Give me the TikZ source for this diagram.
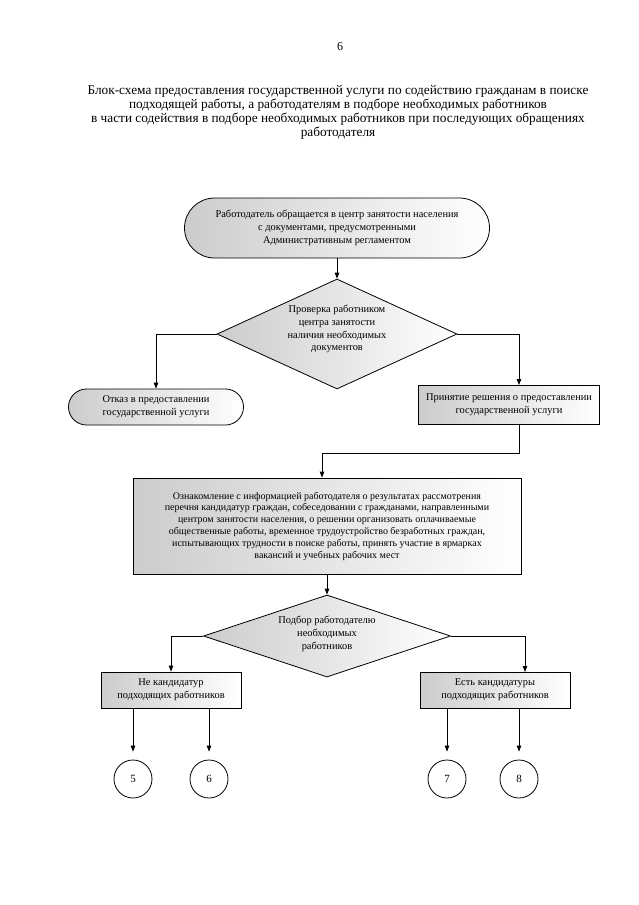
\documentclass[tikz,border=0pt]{standalone}
\usepackage{fontspec}
\setmainfont{Liberation Serif}
\usetikzlibrary{shapes.geometric,shapes.misc,arrows.meta}
\begin{document}
\begin{tikzpicture}[x=1pt,y=-1pt,
  every node/.style={inner sep=0pt, align=center},
  txt/.style={font=\fontsize{10.4}{12.8}\selectfont},
  bigtxt/.style={font=\fontsize{10}{11.8}\selectfont},
  line/.style={line width=0.8pt},
  arr/.style={line, -{Triangle[length=6pt,width=4.5pt]}},
  shade/.style={draw, line width=0.8pt, left color=gray!40, middle color=gray!12, right color=white},
  stadium/.style={shade, rounded rectangle},
  box/.style={shade, rectangle},
  dia/.style={shade, diamond},
  circ/.style={draw, line width=0.8pt, circle, minimum size=38pt, font=\fontsize{11}{13}\selectfont}
]
\useasboundingbox[fill=white] (0,0) rectangle (639,905);

\node[font=\fontsize{12}{14}\selectfont] (pnum) at (340,47) {6};
\node[font=\fontsize{13.3}{14}\selectfont] (title) at (338,112)
  {Блок-схема предоставления государственной услуги по содействию гражданам в поиске\\
   подходящей работы, а работодателям в подборе необходимых работников\\
   в части содействия в подборе необходимых работников при последующих обращениях\\
   работодателя};

% start
\node[stadium, minimum width=305pt, minimum height=60pt] (start) at (337,228) {};
\node[txt] (startt) at (start) {Работодатель обращается в центр занятости населения\\
  с документами, предусмотренными\\ Административным регламентом};

% decision 1
\node[dia, minimum width=240pt, minimum height=110pt] (d1) at (337,334) {};
\node[txt] (d1t) at (337,329) {Проверка работником\\ центра занятости\\ наличия необходимых\\ документов};

% refuse
\node[stadium, minimum width=175pt, minimum height=36pt] (refuse) at (156,407) {};
\node[txt] (refuset) at (refuse) {Отказ в предоставлении\\ государственной услуги};

% accept
\node[box, minimum width=181pt, minimum height=39pt] (accept) at (509,404.5) {};
\node[txt] (acceptt) at (accept) {Принятие решения о предоставлении\\ государственной услуги};

% big box
\node[box, minimum width=388pt, minimum height=96pt] (big) at (327,526) {};
\node[bigtxt] (bigt) at (big) {Ознакомление с информацией работодателя о результатах рассмотрения\\
  перечня кандидатур граждан, собеседовании с гражданами, направленными\\
  центром занятости населения, о решении организовать оплачиваемые\\
  общественные работы, временное трудоустройство безработных граждан,\\
  испытывающих трудности в поиске работы, принять участие в ярмарках\\
  вакансий и учебных рабочих мест};

% decision 2
\node[dia, minimum width=247pt, minimum height=82pt] (d2) at (327,636) {};
\node[txt] (d2t) at (327,634) {Подбор работодателю\\ необходимых\\ работников};

% lower boxes
\node[box, minimum width=140pt, minimum height=36pt] (nobox) at (171,690) {};
\node[txt] (noboxt) at (nobox) {Не кандидатур\\ подходящих работников};
\node[box, minimum width=150pt, minimum height=36pt] (yesbox) at (495,690) {};
\node[txt] (yesboxt) at (yesbox) {Есть кандидатуры\\ подходящих работников};

% circles
\node[circ] (c5) at (133,779) {5};
\node[circ] (c6) at (209,779) {6};
\node[circ] (c7) at (447,779) {7};
\node[circ] (c8) at (519,779) {8};

% connectors
\draw[arr] (start.south) -- (d1.north);
\draw[arr] (d1.west) -| (refuse.north);
\coordinate (acc) at (519,385);
\draw[arr] (d1.east) -| (acc);
\coordinate (b1) at (519,453);
\coordinate (b2) at (322,453);
\draw[arr] (accept.south -| b1) -- (b1) -- (b2) -- (b2 |- big.north);
\draw[arr] (big.south) -- (d2.north);
\draw[arr] (d2.west) -| (nobox.north);
\coordinate (yb) at (525,672);
\draw[arr] (d2.east) -| (yb);
\draw[arr, shorten >=8pt] (nobox.south -| c5) -- (c5.north);
\draw[arr, shorten >=8pt] (nobox.south -| c6) -- (c6.north);
\draw[arr, shorten >=8pt] (yesbox.south -| c7) -- (c7.north);
\draw[arr, shorten >=8pt] (yesbox.south -| c8) -- (c8.north);
\end{tikzpicture}
\end{document}
